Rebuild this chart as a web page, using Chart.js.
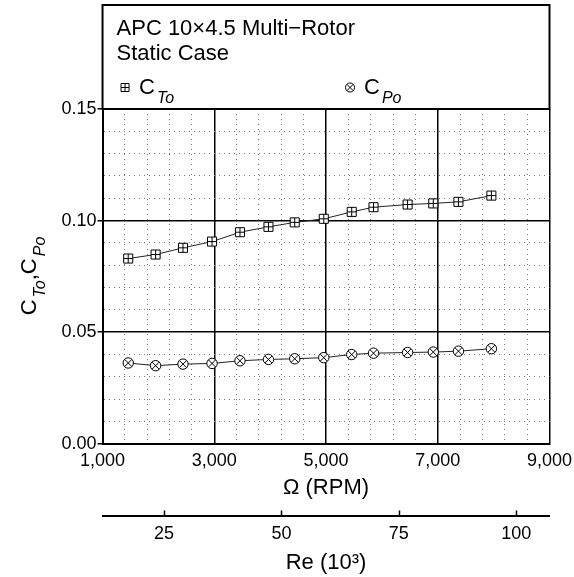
<!DOCTYPE html>
<html>
<head>
<meta charset="utf-8">
<script src="https://cdn.jsdelivr.net/npm/chart.js@4.4.1/dist/chart.umd.min.js"></script>
<style>
  html, body { margin: 0; padding: 0; background: #fff; }
</style>
</head>
<body>
<canvas id="chart" width="574" height="577"></canvas>
<script>
// valeurs
const RPM = [1460, 1950, 2440, 2960, 3460, 3970, 4440, 4960, 5460, 5850, 6460, 6920, 7370, 7960];
const CT0 = [0.0830, 0.0848, 0.0878, 0.0906, 0.0948, 0.0972, 0.0992, 0.1008, 0.1039, 0.1060, 0.1072, 0.1077, 0.1084, 0.1112];
const CP0 = [0.0362, 0.0350, 0.0357, 0.0360, 0.0372, 0.0378, 0.0381, 0.0386, 0.0400, 0.0406, 0.0409, 0.0411, 0.0415, 0.0426];
const X_LABELS = [1000, 3000, 5000, 7000, 9000];
const Y_LABELS = [0, 0.05, 0.10, 0.15];
const RE_LABELS = [25, 50, 75, 100];
const TITLE_LINES = ['APC 10\u00d74.5 Multi\u2212Rotor', 'Static Case'];
const LEGEND = [['C', 'To'], ['C', 'Po']];

const FONT = '"Liberation Sans", Arial, sans-serif';
const isMajorX = v => X_LABELS.includes(Math.round(v));
const isMajorY = v => Y_LABELS.some(m => Math.abs(m - v) < 1e-6);

// texte avec indice italique (C_To)
function drawSub(ctx, base, sub, x, y, size, draw = true) {
  ctx.font = size + 'px ' + FONT;
  const w1 = ctx.measureText(base).width;
  if (draw) ctx.fillText(base, x, y);
  const subSize = Math.round(size * 0.73);
  ctx.font = 'italic ' + subSize + 'px ' + FONT;
  if (draw) ctx.fillText(sub, x + w1 + 2, y + 9);
  return w1 + 2 + ctx.measureText(sub).width;
}

function legendMarker(ctx, kind, x, y) {
  ctx.save();
  ctx.lineWidth = 1;
  ctx.strokeStyle = '#000';
  ctx.fillStyle = '#fff';
  ctx.beginPath();
  if (kind === 0) {
    ctx.rect(x - 4, y - 4, 8, 8);
    ctx.fill(); ctx.stroke();
    ctx.beginPath();
    ctx.moveTo(x, y - 4); ctx.lineTo(x, y + 4);
    ctx.moveTo(x - 4, y); ctx.lineTo(x + 4, y);
  } else {
    ctx.arc(x, y, 4.5, 0, Math.PI * 2);
    ctx.fill(); ctx.stroke();
    ctx.beginPath();
    ctx.moveTo(x - 3, y - 3); ctx.lineTo(x + 3, y + 3);
    ctx.moveTo(x + 3, y - 3); ctx.lineTo(x - 3, y + 3);
  }
  ctx.stroke();
  ctx.restore();
}

const BOX_TOP = 5;
const framePlugin = {
  id: 'frame',
  afterDraw(chart) {
    const { ctx, chartArea: a } = chart;
    ctx.save();
    ctx.strokeStyle = '#000';
    ctx.lineWidth = 2;
    ctx.strokeRect(a.left, BOX_TOP, a.right - a.left, a.top - BOX_TOP);
    ctx.fillStyle = '#000';
    ctx.textBaseline = 'alphabetic';
    ctx.textAlign = 'left';
    ctx.font = '22px ' + FONT;
    TITLE_LINES.forEach((t, i) => ctx.fillText(t, a.left + 14, 35 + i * 25));

    // legende
    LEGEND.forEach((l, i) => {
      const mx = a.left + 22.5 + i * 225, my = 87.5;
      legendMarker(ctx, i, mx, my);
      ctx.fillStyle = '#000';
      drawSub(ctx, l[0], l[1], mx + 14, 94, 22);
    });

    // graduations vers le haut sur l'axe Re
    const re = chart.scales.re;
    ctx.lineWidth = 1.5;
    ctx.beginPath();
    re.ticks.forEach(t => {
      const x = Math.round(re.getPixelForValue(t.value)) + 0.5;
      ctx.moveTo(x, re.top);
      ctx.lineTo(x, re.top - 6);
    });
    ctx.stroke();

    // titre axe y : C_To, C_Po
    ctx.translate(30, 276);
    ctx.rotate(-Math.PI / 2);
    const size = 22;
    ctx.font = size + 'px ' + FONT;
    const comma = ctx.measureText(',').width;
    const total = drawSub(ctx, 'C', 'To', 0, 0, size, false) + comma + drawSub(ctx, 'C', 'Po', 0, 0, size, false);
    let x = -total / 2;
    x += drawSub(ctx, 'C', 'To', x, 6, size);
    ctx.font = size + 'px ' + FONT;
    ctx.fillText(',', x, 6);
    x += comma;
    drawSub(ctx, 'C', 'Po', x, 6, size);
    ctx.restore();
  }
};

const pts = arr => RPM.map((r, i) => ({ x: r, y: arr[i] }));

new Chart(document.getElementById('chart'), {
  type: 'line',
  data: {
    datasets: [
      // croix par-dessus les marqueurs
      { label: 'CTo+', data: pts(CT0), showLine: false, order: 0, pointStyle: 'cross',
        pointRadius: 4.5, pointBorderColor: '#000', pointBorderWidth: 1 },
      { label: 'CPo+', data: pts(CP0), showLine: false, order: 0, pointStyle: 'crossRot',
        pointRadius: 4.9, pointBorderColor: '#000', pointBorderWidth: 1 },
      { label: 'CTo', data: pts(CT0), order: 1, pointStyle: 'rect', pointRadius: 6.4,
        pointBackgroundColor: '#fff', pointBorderColor: '#000', pointBorderWidth: 1,
        borderColor: '#222', borderWidth: 1, tension: 0 },
      { label: 'CPo', data: pts(CP0), order: 1, pointStyle: 'circle', pointRadius: 5.2,
        pointBackgroundColor: '#fff', pointBorderColor: '#000', pointBorderWidth: 1,
        borderColor: '#222', borderWidth: 1, tension: 0 },
    ],
  },
  options: {
    responsive: false,
    animation: false,
    devicePixelRatio: 1,
    layout: { padding: { top: 109, left: 60.5, right: 0, bottom: 0 } },
    plugins: { legend: { display: false }, tooltip: { enabled: false } },
    scales: {
      x: {
        type: 'linear', position: 'bottom', min: 1000, max: 9000, weight: 0,
        afterFit: s => { s.paddingRight = 24.5; },
        ticks: {
          stepSize: 400, autoSkip: false, maxRotation: 0, padding: 6, color: '#000',
          font: { family: FONT, size: 18 },
          callback: v => isMajorX(v) ? Math.round(v).toLocaleString('en-US') : '',
        },
        grid: {
          drawTicks: false,
          color: c => isMajorX(c.tick.value) ? '#000' : '#777',
          lineWidth: c => isMajorX(c.tick.value) ? 1.5 : 1,
        },
        border: { color: '#000', width: 2, dash: c => (c.tick && !isMajorX(c.tick.value)) ? [1, 4] : [] },
        title: { display: true, text: '\u03a9 (RPM)', color: '#000',
          font: { family: FONT, size: 22, lineHeight: 1 }, padding: { top: 0, bottom: 17 } },
      },
      re: {
        type: 'linear', position: 'bottom', min: 11.9, max: 107.1, weight: 1,
        ticks: { stepSize: 25, includeBounds: false, autoSkip: false, maxRotation: 0, padding: 7, color: '#000',
          font: { family: FONT, size: 18 }, callback: v => RE_LABELS.includes(v) ? String(v) : '' },
        grid: { drawOnChartArea: false, drawTicks: false },
        border: { color: '#000', width: 2 },
        title: { display: true, text: 'Re (10\u00b3)', color: '#000',
          font: { family: FONT, size: 22, lineHeight: 1 }, padding: { top: 0, bottom: 3 } },
      },
      y: {
        type: 'linear', min: 0, max: 0.15,
        ticks: {
          stepSize: 0.01, autoSkip: false, padding: 1, color: '#000',
          font: { family: FONT, size: 18 },
          callback: v => isMajorY(v) ? v.toFixed(2) : '',
        },
        grid: {
          tickLength: 5,
          tickColor: c => isMajorY(c.tick.value) ? '#000' : 'rgba(0,0,0,0)',
          color: c => isMajorY(c.tick.value) ? '#000' : '#777',
          lineWidth: c => isMajorY(c.tick.value) ? 1.5 : 1,
        },
        border: { color: '#000', width: 2, dash: c => (c.tick && !isMajorY(c.tick.value)) ? [1, 4] : [] },
      },
    },
  },
  plugins: [framePlugin],
});
</script>
</body>
</html>
